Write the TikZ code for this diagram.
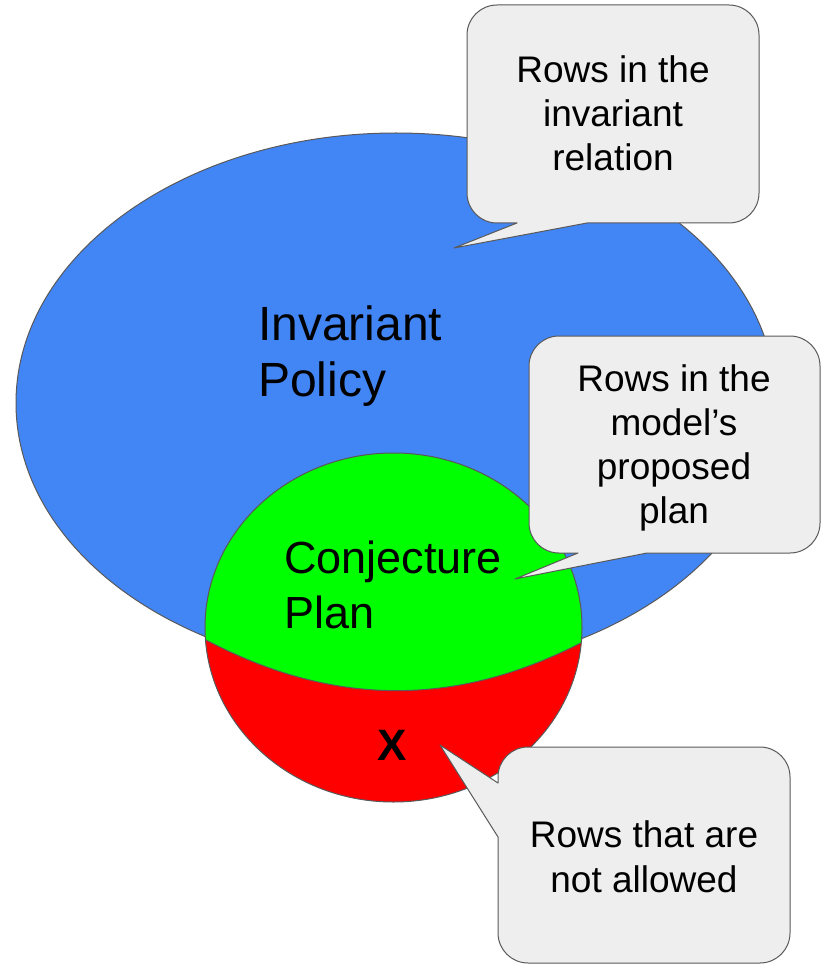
\documentclass[tikz,border=0pt]{standalone}
\usepackage{fontspec}
\setmainfont{Liberation Sans}
\definecolor{policyblue}{HTML}{4285F4}
\definecolor{planGreen}{HTML}{00FF00}
\definecolor{badRed}{HTML}{FF0000}
\definecolor{calloutFill}{HTML}{EEEEEE}
\definecolor{edgeGray}{HTML}{595959}
\tikzset{
  outline/.style={draw=edgeGray, line width=1pt},
  callout/.style={outline, fill=calloutFill, line join=round},
  bigLabel/.style={inner sep=0pt, font=\fontsize{48}{56}\selectfont, align=left},
  midLabel/.style={inner sep=0pt, font=\fontsize{45}{55}\selectfont, align=left},
  noteText/.style={inner sep=0pt, font=\fontsize{37}{44}\selectfont, align=center},
}
\begin{document}
\begin{tikzpicture}[x=1pt, y=-1pt]
\useasboundingbox (0,0) rectangle (825,965);

% outer policy set
\fill[policyblue] (396,403) ellipse [x radius=380, y radius=270];
\draw[outline] (396,403) ellipse [x radius=380, y radius=270];

% proposed plan: red disc, green part inside the policy
\begin{scope}
  \clip (393.5,627.5) ellipse [x radius=188.5, y radius=174.5];
  \fill[badRed] (393.5,627.5) ellipse [x radius=188.5, y radius=174.5];
  \fill[planGreen] (195,634) .. controls (328,708) and (458,710) .. (592,637)
        -- (592,400) -- (195,400) -- cycle;
  \draw[outline] (195,634) .. controls (328,708) and (458,710) .. (592,637);
\end{scope}
\draw[outline] (393.5,627.5) ellipse [x radius=188.5, y radius=174.5];

% region labels (anchored on the baseline of the last line)
\node[bigLabel, anchor=base west] (policy) at (258,396) {Invariant\\Policy};
\node[midLabel, anchor=base west] (plan) at (284,628) {Conjecture\\Plan};
\node[inner sep=0pt, font=\fontsize{44}{44}\selectfont\bfseries, anchor=base] (bad) at (392,760) {X};

% callout tips
\coordinate (tipA) at (454,248);
\coordinate (tipB) at (515,579);
\coordinate (tipC) at (440,745);

% callout bubbles
\draw[callout] (tipA) -- (587,223) [rounded corners=30] -- (759,223) -- (759,5)
      -- (467,5) -- (467,223) [sharp corners] -- (517,223) -- cycle;
\draw[callout] (tipB) -- (647,553) [rounded corners=30] -- (820,553) -- (820,336)
      -- (529,336) -- (529,553) [sharp corners] -- (578,553) -- cycle;
\draw[callout] (tipC) -- (498,837) [rounded corners=30] -- (498,963) -- (790,963)
      -- (790,747) -- (498,747) [sharp corners] -- (498,783) -- cycle;

% callout texts
\node[noteText, anchor=base] (noteA) at (613,171) {Rows in the\\invariant\\relation};
\node[noteText, anchor=base] (noteB) at (674,523) {Rows in the\\model’s\\proposed\\plan};
\node[noteText, anchor=base, font=\fontsize{37}{45}\selectfont] (noteC) at (644,892) {Rows that are\\not allowed};
\end{tikzpicture}
\end{document}
